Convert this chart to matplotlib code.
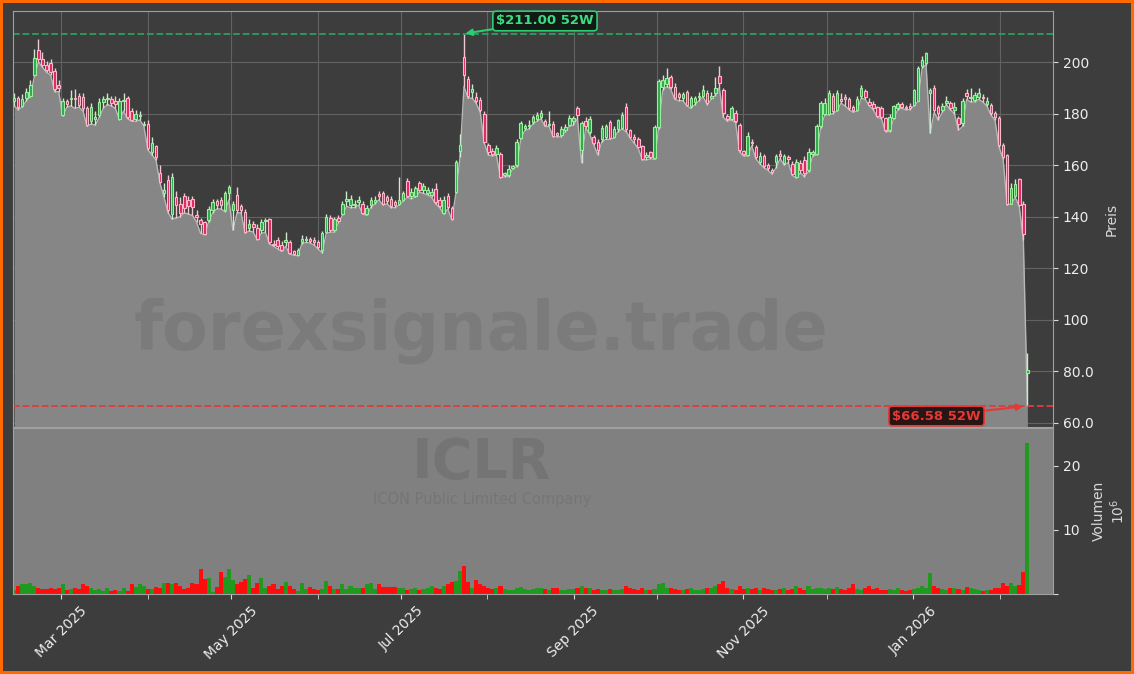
import numpy as np
import pandas as pd
import matplotlib
matplotlib.use('Agg')
import matplotlib.pyplot as plt
import matplotlib.dates as mdates
from matplotlib.ticker import FuncFormatter, MultipleLocator

# ICLR daily candles (USD), Feb 2025 - Feb 2026, one line per month
opens = [
    185, 186, 183, 186, 187, 195, 204.5, 201, 199, 199.5, 196.5, 191,
    179.5, 184.7, 185.5, 186, 187, 186.5, 182, 177, 178, 179.5, 184.3, 185.5, 185.5, 185, 177.8, 185, 186, 181, 178, 179, 175.5,
    175.8, 165, 167.4, 157, 149, 154.4, 141.2, 147.5, 145, 148, 146.5, 147, 140.5, 138.6, 137.9, 138.6, 142.5, 146, 146.4, 142.5, 149,
    142.5, 148.3, 144, 142, 135.8, 137, 135.8, 134.9, 138.3, 139, 129.5, 131, 129, 130, 130, 126.5, 125, 130, 131, 131.2, 131,
    130.1, 126.9, 134, 139.6, 134.7, 139.5, 141.2, 146, 144.4, 144.6, 145.7, 144.8, 141.2, 144.4, 145.7, 148.9, 149, 147.5, 147, 145.7, 145,
    146.4, 154, 148, 148, 152.9, 150.3, 149, 148.3, 150.9, 146.6, 141.5, 148, 143.5, 149.6, 165.6, 202, 193.4, 188.2, 186.4, 185.3, 179.9,
    168, 165.5, 164.5, 164.5, 156, 156, 159, 160, 170.4, 174.3, 175, 176.9, 177.8, 178.8, 177, 175.5, 176, 172.3, 171.7, 173.6, 175.6,
    177, 182, 165.8, 177.3, 173, 171, 169, 170, 171, 176.9, 171, 174, 174.3, 182.7, 173.6, 171, 170, 167.4, 163, 165.2, 162.6,
    174.7, 190.3, 191.6, 194.2, 190.3, 187.5, 186, 188.2, 183, 184.3, 186.5, 187, 188, 186, 188, 194.4, 189.2, 179, 177.8, 180.4, 175.6, 165.5, 163.9,
    169.1, 167, 161.3, 163.5, 160, 158.3, 161.3, 164.5, 160.9, 163.2, 160.6, 155.5, 161, 162, 158, 164.5, 164.5, 175, 180,
    180, 187, 181.4, 185.6, 186.6, 185.6, 182.5, 181.4, 186.9, 188.6, 184.5, 183.8, 182.5, 182.1, 178.2, 173.6, 178.2, 182.1, 183.8, 182.5, 183, 183.4,
    185, 198.3, 199.6, 188, 189.9, 182.7, 181.4, 184, 184, 181.4, 178.2, 176.2, 188, 186, 185.3, 186.6, 186.5, 183.7, 183.4, 180.1,
    178.2, 167.8, 163.9, 145.1, 148, 154.8, 145, 79.5,
]
highs = [
    188, 187, 187.5, 190, 193, 205, 209, 204, 200.5, 201, 197.5, 193,
    186, 185.6, 189, 189.5, 188, 188, 183, 184, 181, 186, 187, 188, 187, 187, 186, 188, 187, 182, 181.5, 181, 177,
    177.5, 171, 168, 160, 153, 156, 157, 150, 147.5, 149, 148, 148, 142.5, 139.5, 138.5, 144, 147, 147, 147.5, 150, 152.2,
    146, 151.6, 145, 143, 139, 138.5, 137, 139, 139.5, 139.5, 131, 132, 130.4, 134, 131, 127, 128, 133, 132.5, 132, 132,
    131, 134.5, 141, 140.5, 140, 140.5, 146, 150, 148.5, 146.5, 148, 146, 144.5, 147.5, 148, 150, 150, 148.5, 148, 146.5, 155.5,
    150, 155, 151, 152, 154, 153, 151.5, 151, 153, 147.5, 148, 149, 144, 162, 172, 211, 194.5, 191.5, 188.5, 186.5, 181,
    168.5, 166.5, 168, 165, 157.5, 160, 160, 170, 177, 176, 177.5, 179.5, 180.5, 181.5, 178, 181, 177, 173, 175, 176, 179.5,
    179, 183, 177, 178.5, 179, 171.5, 170, 175.5, 176, 177.5, 175, 178, 180.5, 184, 174, 172, 171, 168, 165, 165.5, 175.5,
    193.5, 195, 197.5, 195, 192, 188.5, 188.5, 189, 187, 187, 188.5, 191, 189, 188.5, 194, 198.3, 190, 180, 183, 181.5, 176.5, 166, 173,
    170, 168, 165, 164.5, 161, 159, 164.5, 166, 164.5, 164, 161.5, 162.5, 162, 163.5, 166.5, 166, 176, 185, 186,
    189, 188, 189, 188, 187.5, 186.5, 183.5, 187, 191, 189.5, 186, 185, 183, 183, 178.5, 180, 183.5, 184.5, 184.5, 183.5, 184, 189.5,
    198.5, 202.5, 204, 190, 191, 183.5, 184, 187, 185, 184.5, 179, 186, 189.5, 190, 188.5, 190, 187.5, 186.5, 184, 181,
    179, 168.5, 164.5, 152.9, 154.8, 155, 146, 87,
]
lows = [
    183, 181.5, 182.5, 185, 186.5, 194.5, 200, 198, 196, 195, 188.5, 188.5,
    179, 182.5, 183, 182, 182.5, 181, 175, 176, 175.5, 178.5, 182, 183.5, 183, 182, 177.5, 181, 178, 177, 177, 177.5, 175.3,
    166, 164, 162, 153, 147.5, 141.5, 139, 139.5, 140, 141.5, 141, 140.5, 138, 133.5, 133, 138, 141.5, 143, 143, 142, 146.5,
    134.7, 141.5, 141.5, 133.5, 134.5, 134, 131, 133.5, 134, 129.5, 128.5, 127.5, 126.5, 128.5, 125.5, 125, 124.9, 129.5, 130, 129.8, 129,
    127.5, 126, 133.5, 134, 134, 137.5, 140.5, 144, 143.5, 143.5, 144.5, 141, 140.5, 143.5, 145, 146.5, 144.5, 145, 143.5, 143.5, 144.5,
    146, 147.5, 147, 147.5, 149.5, 149, 148.5, 147.5, 145, 143.5, 141, 143, 138.8, 149, 163, 190.5, 186, 186, 184, 180.5, 168.5,
    164, 163.5, 163.9, 155, 155.5, 155.5, 158.5, 159.4, 170, 173.5, 174, 176, 177, 178, 175, 175, 171, 171, 171, 173, 175,
    175.5, 178, 161, 174.5, 172, 168, 164, 169, 170, 170, 170.5, 173, 174, 173, 170.5, 168.5, 166.5, 162, 162, 162.5, 162.2,
    174, 189, 190.5, 189.5, 185.5, 185, 185, 183, 182, 183.5, 185, 186.5, 183.5, 185.5, 187, 190, 178.5, 177, 177.5, 176.5, 165, 163.5, 163.5,
    167.5, 162.5, 160.5, 159, 158, 156.5, 159, 162.5, 160, 161, 156, 155, 157, 155.5, 157.5, 163.5, 164, 174.5, 179.5,
    179.5, 180, 181, 184, 183, 181.5, 180.5, 181, 186, 185.5, 183, 181.5, 178.5, 178, 173, 173, 178, 181.5, 182, 181.5, 181.5, 183,
    184.7, 197.5, 199, 172.3, 180.5, 177.5, 180.5, 183.5, 181.5, 180, 173.5, 175, 185.5, 184.5, 184.5, 185.5, 184.5, 183, 179.5, 177.5,
    167, 162.5, 144.5, 145, 147.5, 144, 131, 66.58,
]
closes = [
    186, 182.7, 185.5, 188.5, 191, 201.5, 201, 199, 197, 196, 189.5, 190,
    185, 183.8, 186, 185.5, 183.5, 182, 175.5, 182.5, 178.5, 184.5, 185.7, 186.2, 184, 183.6, 185, 185.3, 178.8, 177.5, 180, 179.3, 176,
    166.5, 168.4, 163.2, 153.5, 150.5, 142.5, 155.5, 144.5, 141.5, 143.5, 144, 143.8, 140, 137.3, 133.4, 143, 145.7, 144.4, 144.4, 149, 151.6,
    145, 142.5, 142.7, 134, 137.3, 136, 131.3, 138, 138.6, 130.3, 129, 128.5, 127, 131, 126, 125.5, 127, 131.5, 131.5, 130.5, 130,
    128.4, 133.6, 139.9, 134.7, 139.2, 138.5, 145.1, 147, 147, 145, 146.5, 141.4, 143.5, 146.4, 146.5, 148, 145, 146, 144, 144.5, 146.5,
    149, 148, 149.5, 151, 150.3, 152, 150.5, 149.6, 145.7, 144, 146.6, 143.8, 139.2, 161.3, 167.8, 195, 186.9, 189.5, 185, 181.4, 169.1,
    165, 164.5, 166.5, 155.5, 157, 158.5, 159.5, 169, 176.2, 175.2, 175.5, 178.6, 179.5, 180.4, 175.6, 176, 171.3, 171.8, 173.9, 174.9, 178.2,
    178.2, 179.5, 176.2, 175, 177.8, 168.5, 166, 174.5, 175, 170.4, 174, 177.5, 179.5, 173.9, 170.8, 170, 167.1, 162.2, 163.9, 163.2, 174.7,
    192.5, 193.1, 193.8, 190.3, 186, 186.5, 187.7, 183.4, 186, 186, 187, 189, 184, 187, 190, 191.8, 180.1, 177.8, 182.1, 177.3, 165.8, 164.3, 171.3,
    168.4, 163, 163.5, 159.6, 159, 157.4, 163.5, 163.5, 163.5, 162.2, 156.5, 161.3, 158, 157, 165, 165, 175, 184, 184,
    188, 181, 187.9, 184.8, 185.6, 182.1, 181.2, 185.6, 189.9, 186.4, 183.5, 182.1, 179.1, 178.6, 173.6, 178.8, 183, 183.8, 182.7, 182, 182, 189,
    197.7, 200.9, 203.5, 189, 181.4, 180.1, 183, 185, 182.1, 182.5, 176, 185, 187, 186.5, 187.3, 187.9, 186, 184.7, 180.1, 178.6,
    167.8, 163.2, 145.1, 151, 152.5, 144.4, 133.4, 80.5,
]
# volume in millions of shares
volume = [
    0.6, 1.3, 1.6, 1.5, 1.7, 1.3, 1.0, 0.8, 0.8, 0.9, 0.8, 0.9,
    1.5, 0.6, 0.8, 0.9, 0.8, 1.5, 1.3, 1.0, 0.6, 0.8, 0.5, 0.9, 0.4, 0.6, 0.4, 0.9, 0.5, 1.5, 1.1, 1.6, 1.3,
    0.8, 0.8, 1.1, 0.9, 1.7, 1.7, 1.6, 1.7, 1.3, 0.8, 1.0, 1.7, 1.5, 3.9, 2.3, 2.5, 0.3, 1.1, 3.5, 2.7, 3.9,
    2.2, 1.5, 1.9, 2.3, 3.0, 1.0, 1.7, 2.5, 1.0, 1.3, 1.5, 0.8, 1.3, 1.8, 1.3, 0.8, 0.5, 1.7, 0.8, 1.1, 0.8,
    0.6, 0.8, 2.0, 1.3, 0.8, 0.8, 1.6, 0.8, 1.3, 1.0, 0.9, 1.0, 1.5, 1.7, 0.8, 1.5, 1.1, 1.1, 1.1, 1.1, 1.0,
    0.9, 0.6, 0.8, 1.0, 0.7, 0.8, 0.9, 1.2, 1.0, 0.8, 1.3, 1.5, 1.8, 2.0, 3.6, 4.4, 1.8, 1.0, 2.2, 1.5, 1.2,
    1.0, 0.8, 0.9, 1.2, 0.8, 0.7, 0.6, 0.9, 1.1, 0.8, 0.7, 0.8, 0.9, 1.0, 0.8, 0.7, 1.0, 0.9, 0.6, 0.7, 0.8,
    0.8, 0.9, 1.3, 1.0, 0.9, 0.7, 0.8, 0.6, 0.7, 0.8, 0.7, 0.6, 0.8, 1.3, 0.9, 0.8, 0.7, 0.9, 0.6, 0.7, 0.8,
    1.5, 1.7, 1.0, 0.9, 0.8, 0.7, 0.6, 0.8, 0.9, 0.7, 0.6, 0.8, 0.9, 1.0, 1.3, 1.5, 2.0, 1.0, 0.8, 0.7, 1.2, 0.8, 1.0,
    0.8, 0.9, 0.7, 1.0, 0.8, 0.6, 0.7, 0.8, 0.9, 0.7, 0.8, 1.3, 0.9, 0.7, 1.3, 0.8, 0.9, 1.0, 0.8,
    0.9, 0.8, 1.1, 0.8, 0.7, 0.9, 1.5, 0.8, 0.7, 1.0, 1.3, 0.8, 0.9, 0.7, 0.6, 0.8, 0.7, 0.9, 0.6, 0.5, 0.7, 0.8,
    1.0, 1.3, 0.9, 3.3, 1.2, 0.9, 0.8, 0.7, 0.9, 1.0, 0.8, 0.7, 1.1, 0.9, 0.8, 0.6, 0.5, 0.6, 0.7, 0.9,
    0.9, 1.7, 1.25, 1.7, 1.25, 1.4, 3.4, 23.5,
]
ticker = "ICLR"
company = "ICON Public Limited Company"

o, h, l, c = map(np.array, (opens, highs, lows, closes))
vol = np.array(volume)
dates = pd.date_range('2025-02-12', '2026-02-11', periods=len(c))
x = mdates.date2num(dates)
step = x[1] - x[0]
up = c >= o

bg = '#3d3d3d'
fig = plt.figure(figsize=(11.34, 6.74), dpi=100, facecolor=bg)
fig.patch.set_edgecolor('#ff6a00')
fig.patch.set_linewidth(4)
ax = fig.add_axes([13 / 1134, 1 - 427 / 674, 1040 / 1134, 416 / 674], facecolor=bg)
ax2 = fig.add_axes([13 / 1134, 1 - 594 / 674, 1040 / 1134, 166 / 674], facecolor='#808080', sharex=ax)

# price
ax.set_axisbelow(True)
ax.fill_between(x, l, 0, color='#868686', lw=0, zorder=1)
ax.plot(x, l, color='#b8b8b8', lw=1, zorder=1.5)
ax.vlines(x, l, h, colors=np.where(up, '#cfe8cf', '#f0c8d0'), lw=1, zorder=2)
ax.bar(x, np.maximum(np.abs(c - o), 0.4), bottom=np.minimum(o, c), width=step * 0.62,
       color=np.where(up, '#2fa84f', '#e0245e'), edgecolor=np.where(up, '#9af09a', '#ffb6c8'),
       linewidth=0.8, zorder=3)

hi_i, lo_i = h.argmax(), l.argmin()
ax.axhline(h[hi_i], color='#2e9e5b', ls='--', lw=1.3, zorder=2.5)
ax.axhline(l[lo_i], color='#e03c3c', ls='--', lw=1.3, zorder=2.5)
ax.annotate(f'${h[hi_i]:.2f} 52W', xy=(x[hi_i], h[hi_i]), xytext=(0.5115, 0.976),
            textcoords='axes fraction', ha='center', va='center', fontsize=9.5, fontweight='bold',
            color='#3ddc84', bbox=dict(boxstyle='round,pad=0.25', fc='#111a14', ec='#2ecc71', lw=1.2),
            arrowprops=dict(arrowstyle='-|>', color='#2ecc71', lw=1.5, shrinkA=0, shrinkB=1), zorder=6)
ax.annotate(f'${l[lo_i]:.2f} 52W', xy=(x[lo_i], l[lo_i]), xytext=(0.888, 0.0264),
            textcoords='axes fraction', ha='center', va='center', fontsize=9.5, fontweight='bold',
            color='#e53935', bbox=dict(boxstyle='round,pad=0.25', fc='#2a1515', ec='#e53935', lw=1.2),
            arrowprops=dict(arrowstyle='-|>', color='#e53935', lw=1.5, shrinkA=0, shrinkB=3), zorder=6)

ax.text(0.45, 0.231, 'forexsignale.trade', transform=ax.transAxes, fontsize=48, fontweight='bold',
        color='black', alpha=0.08, ha='center', va='center', zorder=1.8)
fig.text(0.425, 1 - 478 / 674, ticker, fontsize=40, fontweight='bold', color='black', alpha=0.09,
         ha='center', va='baseline', zorder=5)
fig.text(0.425, 1 - 492 / 674, company, fontsize=10.5, color='black', alpha=0.08,
         ha='center', va='top', zorder=5)

ax.set_ylim(58.4, 219.8)
ax.yaxis.set_major_locator(MultipleLocator(20))
ax.yaxis.set_major_formatter(FuncFormatter(lambda v, p: f'{v:.1f}' if v < 100 else f'{v:.0f}'))
ax.yaxis.tick_right()
ax.yaxis.set_label_position('right')
ax.set_ylabel('Preis', color='#d8d8d8', fontsize=10, labelpad=8)
ax.grid(True, which='both', color='#626262', lw=0.8)
ax.tick_params(axis='x', which='both', labelbottom=False, length=0)

# volume
ax2.bar(x, vol, width=step, color=np.where(up, '#1f9a1f', '#ff0d0d'), lw=0)
ax2.set_ylim(0, vol.max() * 1.1)
ax2.yaxis.set_major_locator(MultipleLocator(10))
ax2.yaxis.set_major_formatter(FuncFormatter(lambda v, p: '' if v == 0 else f'{v:.0f}'))
ax2.yaxis.tick_right()
ax2.yaxis.set_label_position('right')
ax2.set_ylabel('Volumen\n$10^6$', color='#d8d8d8', fontsize=10, labelpad=8)

ax2.xaxis.set_major_locator(mdates.MonthLocator(bymonth=[1, 3, 5, 7, 9, 11]))
ax2.xaxis.set_minor_locator(mdates.MonthLocator())
ax2.xaxis.set_major_formatter(mdates.DateFormatter('%b %Y'))
ax2.set_xlim(x[0] - 0.4, x[-1] + 9.2)
plt.setp(ax2.get_xticklabels(), rotation=45, ha='center')

for a in (ax, ax2):
    a.tick_params(colors='#d8d8d8', labelcolor='#eeeeee', labelsize=10)
    a.tick_params(which='minor', length=3.5, color='#d8d8d8')
    for s in a.spines.values():
        s.set_color('#a0a0a0')

fig.savefig('out.png', dpi=100, facecolor=bg, edgecolor=fig.patch.get_edgecolor())
